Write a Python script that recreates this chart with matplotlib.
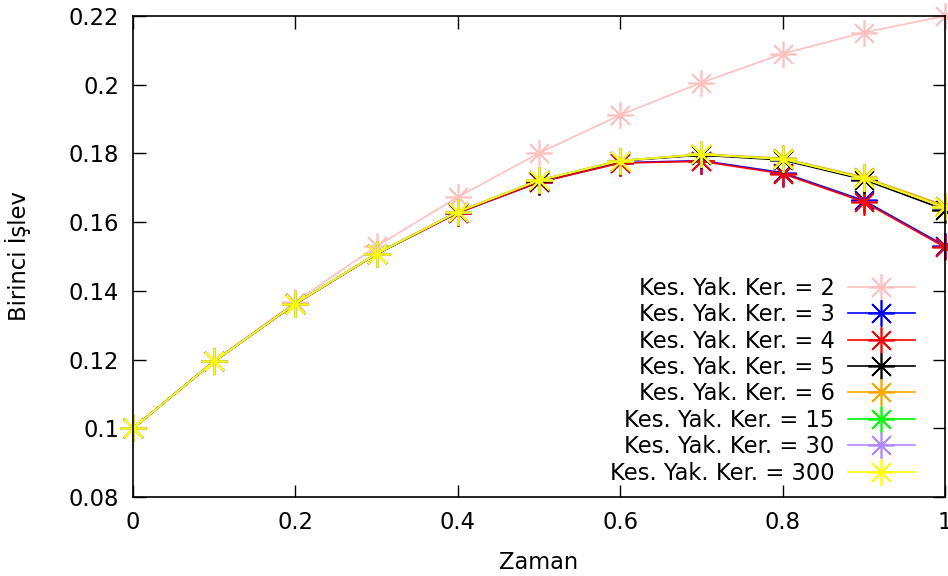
import matplotlib
matplotlib.use("Agg")
import matplotlib.pyplot as plt

# zaman noktalari
zaman = [0.0, 0.1, 0.2, 0.3, 0.4, 0.5, 0.6, 0.7, 0.8, 0.9, 1.0]

# Kes. Yak. Ker. degerlerine gore birinci islev
k2 = [0.1, 0.1197, 0.1368, 0.1530, 0.1673, 0.1801, 0.1912, 0.2006, 0.2090, 0.2152, 0.2200]
k3 = [0.1, 0.1195, 0.1362, 0.1507, 0.1627, 0.1716, 0.1773, 0.1779, 0.1744, 0.1663, 0.1531]
k4 = [0.1, 0.1195, 0.1362, 0.1507, 0.1627, 0.1716, 0.1772, 0.1777, 0.1741, 0.1659, 0.1527]
k5 = [0.1, 0.1195, 0.1363, 0.1508, 0.1630, 0.1721, 0.1778, 0.1795, 0.1781, 0.1724, 0.1636]
k6 = [0.1, 0.1195, 0.1363, 0.1508, 0.1630, 0.1722, 0.1779, 0.1798, 0.1786, 0.1731, 0.1648]
k15 = [0.1, 0.1195, 0.1363, 0.1508, 0.1630, 0.1722, 0.1779, 0.1797, 0.1784, 0.1728, 0.1643]
k30 = [0.1, 0.1195, 0.1363, 0.1508, 0.1630, 0.1722, 0.1779, 0.1797, 0.1784, 0.1728, 0.1643]
k300 = [0.1, 0.1195, 0.1363, 0.1508, 0.1630, 0.1722, 0.1779, 0.1797, 0.1784, 0.1728, 0.1643]

seriler = [k2, k3, k4, k5, k6, k15, k30, k300]
etiketler = ["Kes. Yak. Ker. = 2", "Kes. Yak. Ker. = 3", "Kes. Yak. Ker. = 4",
             "Kes. Yak. Ker. = 5", "Kes. Yak. Ker. = 6", "Kes. Yak. Ker. = 15",
             "Kes. Yak. Ker. = 30", "Kes. Yak. Ker. = 300"]
renkler = ["#ffc0c0", "blue", "red", "black", "orange", "#00ff00", "#b088ff", "yellow"]

fs = 16.3

fig = plt.figure(figsize=(9.48, 5.76), dpi=100)
ax = fig.add_axes([0.1403, 0.1372, 0.8565, 0.835])

for y, lab, c in zip(seriler, etiketler, renkler):
    ax.plot(zaman, y, color=c, lw=1.2, marker=(8, 2, 0), markersize=19,
            markeredgewidth=1.2, label=lab, clip_on=False)

ax.set_xlim(0, 1)
ax.set_ylim(0.08, 0.22)
ax.set_xticks([0, 0.2, 0.4, 0.6, 0.8, 1])
ax.set_xticklabels(["0", "0.2", "0.4", "0.6", "0.8", "1"])
ax.set_yticks([0.08, 0.1, 0.12, 0.14, 0.16, 0.18, 0.2, 0.22])
ax.set_yticklabels(["0.08", "0.1", "0.12", "0.14", "0.16", "0.18", "0.2", "0.22"])
ax.tick_params(direction="in", length=9, width=1, top=True, right=True,
               labelsize=fs, pad=10)
for s in ax.spines.values():
    s.set_linewidth(1.2)

ax.set_xlabel("Zaman", fontsize=fs, labelpad=12)
ax.set_ylabel("Birinci İşlev", fontsize=fs, labelpad=27)

ax.legend(loc="lower right", frameon=False, markerfirst=False, fontsize=fs,
          handlelength=2.96, labelspacing=0.15, handletextpad=0.57,
          borderaxespad=0.15, bbox_to_anchor=(0.978, 0.0))

plt.savefig("out.png")
